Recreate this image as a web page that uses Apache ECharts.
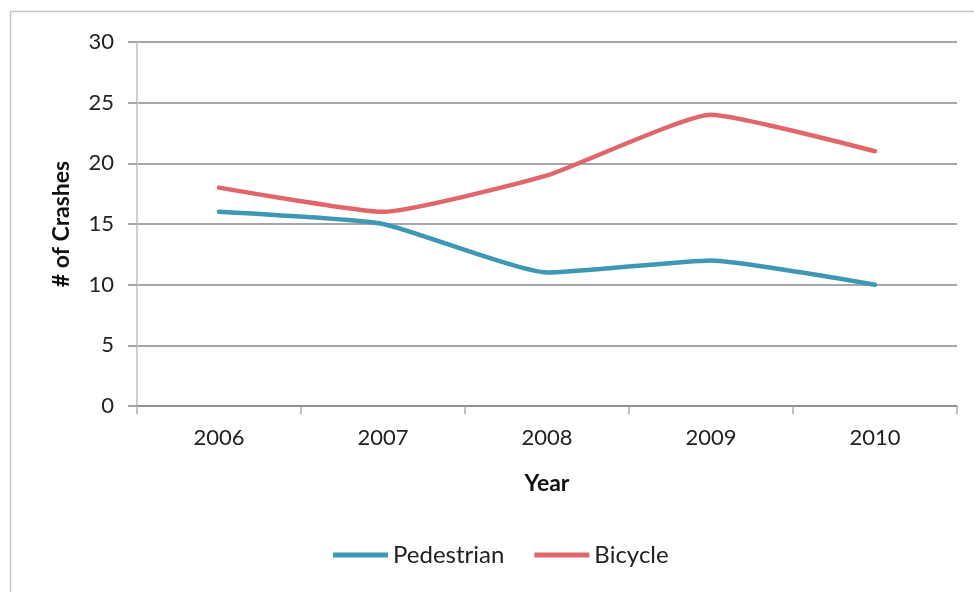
<!DOCTYPE html>
<html>
<head>
<meta charset="utf-8">
<script src="https://cdn.jsdelivr.net/npm/echarts@6/dist/echarts.min.js"></script>
<style>
html,body{margin:0;padding:0;background:#fff;}
#c{width:974px;height:592px;}
</style>
</head>
<body>
<div id="c"></div>
<script>
const years = ['2006', '2007', '2008', '2009', '2010'];
const pedestrian = [16, 15, 11, 12, 10];
const bicycle = [18, 16, 19, 24, 21];
const yTicks = { min: 0, max: 30, interval: 5 };

const FONT = 'Lato, "Open Sans", sans-serif';
const chart = echarts.init(document.getElementById('c'), null, { renderer: 'canvas' });
chart.setOption({
  backgroundColor: '#fff',
  animation: false,
  graphic: [{
    type: 'rect', silent: true, z: -10,
    shape: { x: 10.5, y: 11.5, width: 1200, height: 1200 },
    style: { fill: 'none', stroke: '#c4c4c4', lineWidth: 1.5 }
  }],
  grid: { left: 137, right: 17, top: 42, bottom: 186, containLabel: false },
  legend: {
    bottom: 20, left: 328,
    itemWidth: 55, itemHeight: 5, itemGap: 30,
    icon: 'rect',
    textStyle: { fontFamily: FONT, fontSize: 24, color: '#222' },
    data: ['Pedestrian', 'Bicycle']
  },
  xAxis: {
    type: 'category', data: years, boundaryGap: true,
    name: 'Year', nameLocation: 'middle', nameGap: 66,
    nameTextStyle: { fontFamily: FONT, fontSize: 23, fontWeight: 'bold', color: '#111' },
    axisLine: { lineStyle: { color: '#8a8a8a', width: 1.5 } },
    axisTick: { show: true, length: 8, lineStyle: { color: '#b0b0b0', width: 1.5 } },
    axisLabel: { margin: 21, fontFamily: FONT, fontSize: 22, color: '#222' },
    splitLine: { show: false }
  },
  yAxis: {
    type: 'value', min: yTicks.min, max: yTicks.max, interval: yTicks.interval,
    name: '# of Crashes', nameLocation: 'middle', nameGap: 64, nameRotate: 90,
    nameTextStyle: { fontFamily: FONT, fontSize: 23, fontWeight: 'bold', color: '#111' },
    axisLine: { show: true, lineStyle: { color: '#cfcfcf', width: 2 } },
    axisTick: { show: true, length: 9, lineStyle: { color: '#8a8a8a', width: 1.5 } },
    axisLabel: { margin: 23, fontFamily: FONT, fontSize: 22, color: '#222' },
    splitLine: { show: true, lineStyle: { color: '#8a8a8a', width: 1.5 } }
  },
  series: [
    {
      name: 'Pedestrian', type: 'line', data: pedestrian,
      showSymbol: false, symbol: 'none', smooth: 0.15,
      lineStyle: { color: '#3d98b3', width: 4.5, cap: 'round', join: 'round' },
      itemStyle: { color: '#3d98b3' }
    },
    {
      name: 'Bicycle', type: 'line', data: bicycle,
      showSymbol: false, symbol: 'none', smooth: 0.15,
      lineStyle: { color: '#e0666a', width: 4.5, cap: 'round', join: 'round' },
      itemStyle: { color: '#e0666a' }
    }
  ]
});
</script>
</body>
</html>
